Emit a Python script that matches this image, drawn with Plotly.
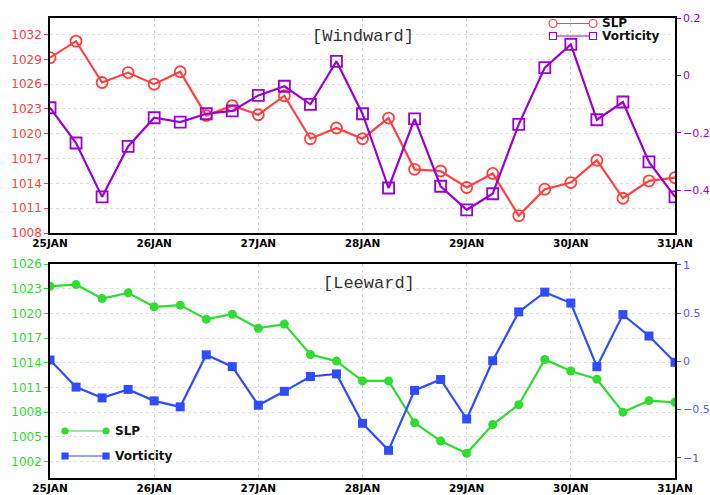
import plotly.graph_objects as go
import pandas as pd

times = pd.date_range("2000-01-25 00:00", periods=25, freq="6h")
day_ticks = pd.date_range("2000-01-25", periods=7, freq="D")
day_labels = ["25JAN", "26JAN", "27JAN", "28JAN", "29JAN", "30JAN", "31JAN"]

# Windward
slp_wind = [1029.2, 1031.2, 1026.2, 1027.4, 1026.0, 1027.5, 1022.2, 1023.4, 1022.3, 1024.6,
            1019.4, 1020.7, 1019.4, 1021.9, 1015.7, 1015.5, 1013.5, 1015.2, 1010.1, 1013.3,
            1014.1, 1016.8, 1012.2, 1014.3, 1014.7]
vor_wind = [-0.113, -0.236, -0.424, -0.248, -0.148, -0.163, -0.134, -0.124, -0.070, -0.038,
            -0.101, 0.049, -0.134, -0.393, -0.152, -0.387, -0.469, -0.413, -0.171, 0.027,
            0.108, -0.155, -0.093, -0.302, -0.424]
# Leeward
slp_lee = [1023.3, 1023.5, 1021.8, 1022.5, 1020.8, 1021.0, 1019.3, 1019.9, 1018.2, 1018.7,
           1015.0, 1014.2, 1011.8, 1011.8, 1006.7, 1004.5, 1003.0, 1006.5, 1008.9, 1014.4,
           1013.0, 1012.0, 1008.0, 1009.4, 1009.2]
vor_lee = [0.014, -0.267, -0.379, -0.291, -0.410, -0.472, 0.068, -0.055, -0.455, -0.311,
           -0.157, -0.130, -0.643, -0.923, -0.301, -0.188, -0.598, 0.007, 0.513, 0.718,
           0.605, -0.055, 0.485, 0.263, -0.010]

slp_wind_ticks = [1008, 1011, 1014, 1017, 1020, 1023, 1026, 1029, 1032]
vor_wind_ticks = [-0.4, -0.2, 0, 0.2]
slp_lee_ticks = [1002, 1005, 1008, 1011, 1014, 1017, 1020, 1023, 1026]
vor_lee_ticks = [-1, -0.5, 0, 0.5, 1]

RED = "#ff4040"
PURPLE = "#9b00d3"
GREEN = "#2fdc2f"
BLUE = "#2f4dff"

W, H = 710, 495
ML, MR, MT, MB = 50, 35, 18, 17
PW, PH = W - ML - MR, H - MT - MB


def px(x):
    return (x - ML) / PW


def py(y):
    return 1 - (y - MT) / PH


fig = go.Figure()
fig.add_trace(go.Scatter(x=times, y=slp_wind, name="SLP", mode="lines+markers",
                         line=dict(color=RED, width=2.2),
                         marker=dict(symbol="circle-open", size=11, color=RED, line=dict(width=1.8)),
                         xaxis="x", yaxis="y"))
fig.add_trace(go.Scatter(x=times, y=vor_wind, name="Vorticity", mode="lines+markers",
                         line=dict(color=PURPLE, width=2.2),
                         marker=dict(symbol="square-open", size=11, color=PURPLE, line=dict(width=1.8)),
                         xaxis="x", yaxis="y2"))
fig.add_trace(go.Scatter(x=times, y=slp_lee, name="SLP", mode="lines+markers",
                         line=dict(color=GREEN, width=2.2),
                         marker=dict(symbol="circle", size=9, color=GREEN),
                         xaxis="x2", yaxis="y3"))
fig.add_trace(go.Scatter(x=times, y=vor_lee, name="Vorticity", mode="lines+markers",
                         line=dict(color=BLUE, width=2.2),
                         marker=dict(symbol="square", size=9, color=BLUE),
                         xaxis="x2", yaxis="y4"))

xrange = [times[0], times[-1]]
common_x = dict(range=xrange, tickvals=day_ticks, ticktext=day_labels, showgrid=True,
                gridcolor="#d8d8d8", griddash="dot", gridwidth=1,
                showline=True, linecolor="black", linewidth=1.5, mirror=True,
                ticks="", automargin=False,
                tickfont=dict(family="DejaVu Sans", size=10.5, color="black", weight="bold"),
                zeroline=False)
common_y = dict(showline=True, linecolor="black", linewidth=1.5, ticks="outside", ticklen=4,
                zeroline=False, automargin=False)

# custom legends (decoration)
shapes = []
annotations = []


def legend_item(x1, x2, y, color, symbol, filled, text, size):
    shapes.append(dict(type="line", xref="paper", yref="paper", x0=px(x1), x1=px(x2),
                       y0=py(y), y1=py(y), line=dict(color=color, width=1)))
    for xc in (x1, x2):
        shapes.append(dict(type="circle" if symbol == "circle" else "rect",
                           xref="paper", yref="paper", xsizemode="pixel", ysizemode="pixel",
                           xanchor=px(xc), yanchor=py(y),
                           x0=-size / 2, x1=size / 2, y0=-size / 2, y1=size / 2,
                           line=dict(color=color, width=1.2),
                           fillcolor=color if filled else "white"))
    annotations.append(dict(text=text, x=px(x2 + 7), y=py(y), xref="paper", yref="paper",
                            showarrow=False, xanchor="left", yanchor="middle",
                            font=dict(family="DejaVu Sans", size=12, color="#111111", weight="bold")))


legend_item(553, 593, 23.5, RED, "circle", False, "SLP", 8)
legend_item(553, 593, 36, PURPLE, "square", False, "Vorticity", 7)
legend_item(65, 106, 431, GREEN, "circle", True, "SLP", 6)
legend_item(65, 106, 456, BLUE, "square", True, "Vorticity", 6)

annotations += [
    dict(text="[Windward]", x=px(362.5), y=py(37), xref="paper", yref="paper", showarrow=False,
         xanchor="center", yanchor="middle",
         font=dict(family="Liberation Mono", size=17, color="#333333")),
    dict(text="[Leeward]", x=px(369), y=py(283), xref="paper", yref="paper", showarrow=False,
         xanchor="center", yanchor="middle",
         font=dict(family="Liberation Mono", size=17, color="#333333")),
]

top_dom = [py(233), 1]
bot_dom = [0, py(264)]

fig.update_layout(
    width=W, height=H,
    margin=dict(l=ML, r=MR, t=MT, b=MB),
    paper_bgcolor="white", plot_bgcolor="white",
    showlegend=False,
    xaxis=dict(domain=[0, 1], anchor="y", **common_x),
    xaxis2=dict(domain=[0, 1], anchor="y3", **common_x),
    yaxis=dict(domain=top_dom, range=[1008, 1034], tickvals=slp_wind_ticks,
               tickfont=dict(family="DejaVu Sans", size=12, color=RED), tickcolor=RED,
               showgrid=True, gridcolor="#dedede", griddash="dot", **common_y),
    yaxis2=dict(overlaying="y", side="right", anchor="x", range=[-0.55, 0.2], tickvals=vor_wind_ticks,
                tickfont=dict(family="DejaVu Sans", size=11, color=PURPLE), tickcolor=PURPLE,
                showgrid=False, **common_y),
    yaxis3=dict(domain=bot_dom, anchor="x2", range=[1000, 1026], tickvals=slp_lee_ticks,
                tickfont=dict(family="DejaVu Sans", size=12, color=GREEN), tickcolor=GREEN,
                showgrid=True, gridcolor="#dedede", griddash="dot", **common_y),
    yaxis4=dict(overlaying="y3", side="right", anchor="x2", range=[-1.21, 1.01], tickvals=vor_lee_ticks,
                tickfont=dict(family="DejaVu Sans", size=11, color="#5a5aff"), tickcolor=BLUE,
                showgrid=False, **common_y),
    shapes=shapes,
    annotations=annotations,
)

fig.write_html("out.html", config={"displayModeBar": False},
               post_script="document.body.style.margin='0px';document.body.style.padding='0px';")
